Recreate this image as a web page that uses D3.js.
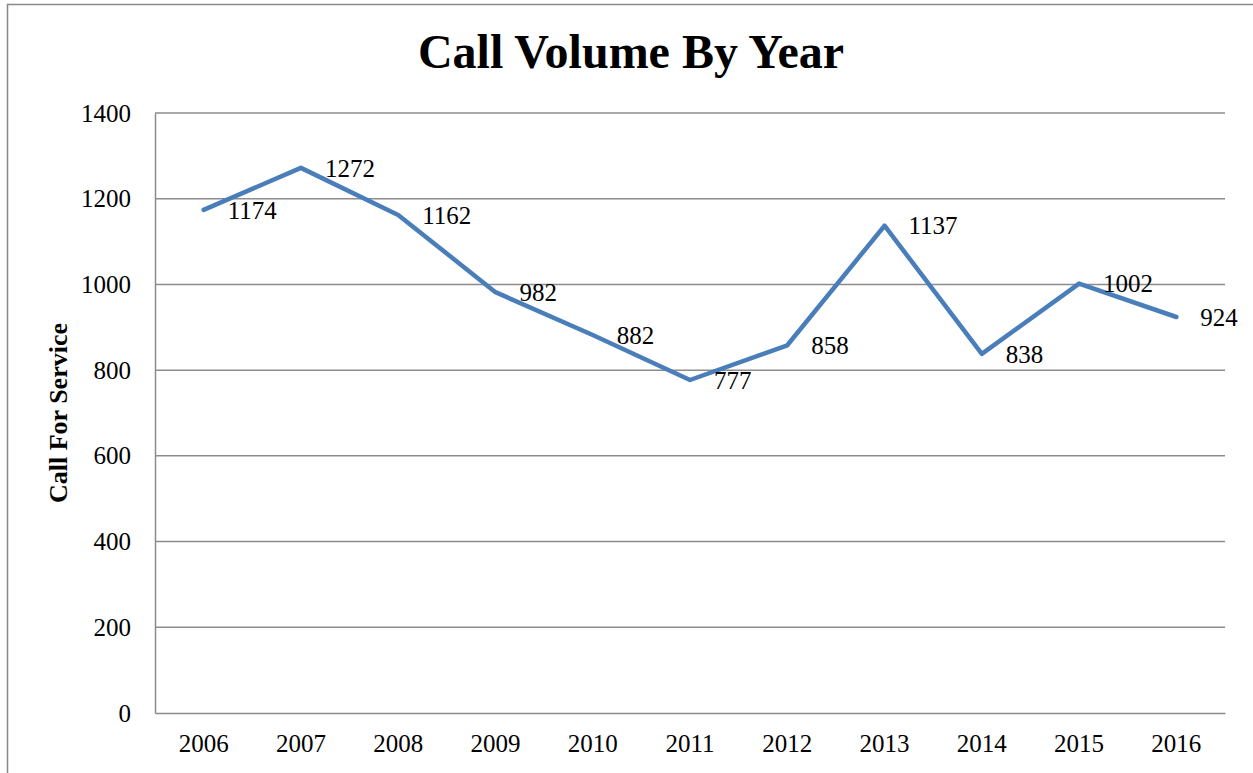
<!DOCTYPE html>
<html>
<head>
<meta charset="utf-8">
<script src="https://cdn.jsdelivr.net/npm/d3@7"></script>
<style>
  body { margin: 0; background: #fff; }
  svg text { font-family: "Liberation Serif", "Times New Roman", serif; fill: #000; }
</style>
</head>
<body>
<div id="chart"></div>
<script>
// chart data
const years = ['2006', '2007', '2008', '2009', '2010', '2011', '2012', '2013', '2014', '2015', '2016'];
const calls = [1174, 1272, 1162, 982, 882, 777, 858, 1137, 838, 1002, 924];
const yTicks = [0, 200, 400, 600, 800, 1000, 1200, 1400];

const width = 1253;
const height = 773;
const margin = { left: 155, right: 28, top: 113, bottom: 60 };

const svg = d3.select('#chart')
  .append('svg')
  .attr('width', width)
  .attr('height', height);

// outer frame (only left and top show in the picture)
svg.append('path')
  .attr('d', `M7.5,${height}L7.5,4.5L${width},4.5`)
  .attr('fill', 'none')
  .attr('stroke', '#888')
  .attr('stroke-width', 1.5);

const x = d3.scaleBand()
  .domain(years)
  .range([margin.left, width - margin.right]);

const y = d3.scaleLinear()
  .domain([0, 1400])
  .range([height - margin.bottom, margin.top]);

// gridlines
svg.append('g')
  .selectAll('line')
  .data(yTicks.filter((d) => d > 0))
  .join('line')
  .attr('x1', margin.left)
  .attr('x2', width - margin.right)
  .attr('y1', (d) => y(d))
  .attr('y2', (d) => y(d))
  .attr('stroke', '#8c8c8c')
  .attr('stroke-width', 1.5);

// y axis
const yAxis = svg.append('g')
  .attr('transform', `translate(${margin.left},0)`)
  .call(d3.axisLeft(y).tickValues(yTicks).tickFormat(d3.format('d')).tickSize(0).tickPadding(24));
yAxis.select('.domain').attr('stroke', '#8c8c8c').attr('stroke-width', 1.5);
yAxis.selectAll('text').style('font-size', '25px').attr('dy', '0.32em');

// x axis
const xAxis = svg.append('g')
  .attr('transform', `translate(0,${height - margin.bottom})`)
  .call(d3.axisBottom(x).tickSize(0).tickPadding(21));
xAxis.select('.domain').attr('stroke', '#8c8c8c').attr('stroke-width', 1.5);
xAxis.selectAll('text').style('font-size', '25px');

// the line
const line = d3.line()
  .x((d, i) => x(years[i]) + x.bandwidth() / 2)
  .y((d) => y(d));

svg.append('path')
  .datum(calls)
  .attr('d', line)
  .attr('fill', 'none')
  .attr('stroke', '#4a7ebb')
  .attr('stroke-width', 4.5)
  .attr('stroke-linejoin', 'round')
  .attr('stroke-linecap', 'round');

// value labels, right of each point
svg.append('g')
  .selectAll('text')
  .data(calls)
  .join('text')
  .attr('x', (d, i) => x(years[i]) + x.bandwidth() / 2 + 24)
  .attr('y', (d) => y(d))
  .attr('dy', '0.35em')
  .style('font-size', '25px')
  .text((d) => d);

// title
svg.append('text')
  .attr('x', 631)
  .attr('y', 68)
  .attr('text-anchor', 'middle')
  .style('font-size', '48px')
  .style('font-weight', 'bold')
  .text('Call Volume By Year');

// y axis title
svg.append('text')
  .attr('transform', `translate(67,${y(700)}) rotate(-90)`)
  .attr('text-anchor', 'middle')
  .style('font-size', '26px')
  .style('font-weight', 'bold')
  .text('Call For Service');
</script>
</body>
</html>
